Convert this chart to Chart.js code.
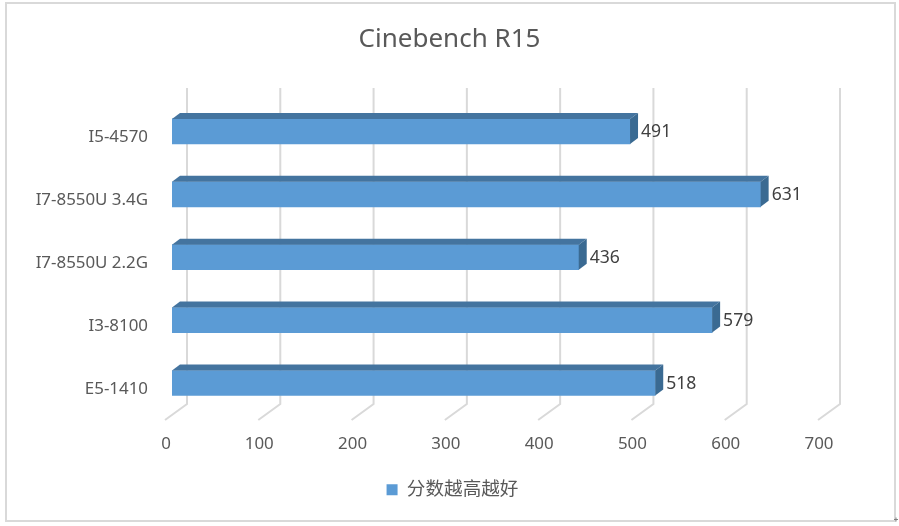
<!DOCTYPE html>
<html>
<head>
<meta charset="utf-8">
<title>Cinebench R15</title>
<script src="https://cdn.jsdelivr.net/npm/chart.js@4/dist/chart.umd.js"></script>
<style>
html, body { margin: 0; padding: 0; background: #fff; }
#wrap { width: 899px; height: 526px; }
</style>
</head>
<body>
<div id="wrap"><canvas id="barCanvas"></canvas></div>
<script>
const categories = ['I5-4570', 'I7-8550U 3.4G', 'I7-8550U 2.2G', 'I3-8100', 'E5-1410'];
const scores = [491, 631, 436, 579, 518];
const seriesName = '分数越高越好';
const chartTitle = 'Cinebench R15';

const depthX = 8, depthY = 6;
const wallX = 15;
const fontName = '"Noto Sans", "Noto Sans CJK SC", sans-serif';
const labelSize = 16.9;
const valueSize = 17.6;

// frame and the 3d looking walls, behind the bars
const wallPlugin = {
    id: 'wall',
    afterLayout(chart) {
        // legend sits a bit right of the middle
        chart.legend.left += 3;
        chart.legend.right += 3;
    },
    beforeDraw(chart) {
        const ctx = chart.ctx;
        ctx.save();
        ctx.strokeStyle = '#d9d9d9';
        ctx.lineWidth = 2;
        ctx.strokeRect(6, 3, 889, 518);
        // little handle in the corner
        ctx.strokeStyle = '#808080';
        ctx.lineWidth = 1;
        ctx.beginPath();
        ctx.moveTo(894, 519.5);
        ctx.lineTo(898, 519.5);
        ctx.moveTo(896, 517.5);
        ctx.lineTo(896, 521.5);
        ctx.stroke();
        ctx.restore();
    },
    beforeDatasetsDraw(chart) {
        const ctx = chart.ctx;
        const x = chart.scales.x;
        ctx.save();
        ctx.strokeStyle = '#d9d9d9';
        ctx.lineWidth = 2;
        x.ticks.forEach(t => {
            const px = x.getPixelForValue(t.value) + wallX;
            ctx.beginPath();
            ctx.moveTo(px, 88);
            ctx.lineTo(px, 404);
            ctx.lineTo(px - 22, 420);
            ctx.stroke();
        });
        ctx.restore();
    }
};

// top and end faces of each bar, then the value next to it
const facePlugin = {
    id: 'faces',
    afterDatasetsDraw(chart) {
        const ctx = chart.ctx;
        const meta = chart.getDatasetMeta(0);
        ctx.save();
        meta.data.forEach((bar, i) => {
            const p = bar.getProps(['x', 'y', 'base', 'height'], true);
            const top = p.y - p.height / 2;
            const bottom = p.y + p.height / 2;
            ctx.fillStyle = '#44749f';
            ctx.beginPath();
            ctx.moveTo(p.base, top);
            ctx.lineTo(p.base + depthX, top - depthY);
            ctx.lineTo(p.x + depthX, top - depthY);
            ctx.lineTo(p.x, top);
            ctx.closePath();
            ctx.fill();
            ctx.fillStyle = '#3a6a92';
            ctx.beginPath();
            ctx.moveTo(p.x, top);
            ctx.lineTo(p.x + depthX, top - depthY);
            ctx.lineTo(p.x + depthX, bottom - depthY);
            ctx.lineTo(p.x, bottom);
            ctx.closePath();
            ctx.fill();
            ctx.fillStyle = '#404040';
            ctx.font = valueSize + 'px ' + fontName;
            ctx.textAlign = 'left';
            ctx.textBaseline = 'middle';
            ctx.fillText(String(scores[i]), p.x + depthX + 3, p.y + 1);
        });
        ctx.restore();
    }
};

const barChart = new Chart(document.getElementById('barCanvas'), {
    type: 'bar',
    data: {
        labels: categories,
        datasets: [{
            label: seriesName,
            data: scores,
            backgroundColor: '#5b9bd5',
            barThickness: 25
        }]
    },
    options: {
        indexAxis: 'y',
        responsive: true,
        maintainAspectRatio: false,
        animation: false,
        layout: { padding: { left: 0, right: 0, top: 0, bottom: 17 } },
        plugins: {
            title: {
                display: true,
                text: chartTitle,
                color: '#595959',
                font: { family: fontName, size: 26, weight: 'normal' },
                padding: { top: 24, bottom: 44.8 }
            },
            legend: {
                position: 'bottom',
                labels: {
                    color: '#595959',
                    font: { family: fontName, size: 18.6 },
                    boxWidth: 11,
                    boxHeight: 11
                }
            },
            tooltip: { enabled: false }
        },
        scales: {
            x: {
                min: 0,
                max: 700,
                afterFit(axis) { axis.height = 56; },
                grid: { display: false },
                border: { display: false },
                ticks: {
                    stepSize: 100,
                    color: '#595959',
                    font: { family: fontName, size: labelSize },
                    labelOffset: -6,
                    padding: 12,
                    maxRotation: 0
                }
            },
            y: {
                afterFit(axis) { axis.width = 172; },
                grid: { display: false },
                border: { display: false },
                ticks: {
                    color: '#595959',
                    font: { family: fontName, size: labelSize },
                    labelOffset: 6,
                    padding: 16
                }
            },
            // empty axis, only keeps the plot clear of the right side
            yRight: {
                type: 'linear',
                position: 'right',
                afterFit(axis) { axis.width = 74; },
                grid: { display: false },
                border: { display: false },
                ticks: { display: false }
            }
        }
    },
    plugins: [wallPlugin, facePlugin]
});
</script>
</body>
</html>
